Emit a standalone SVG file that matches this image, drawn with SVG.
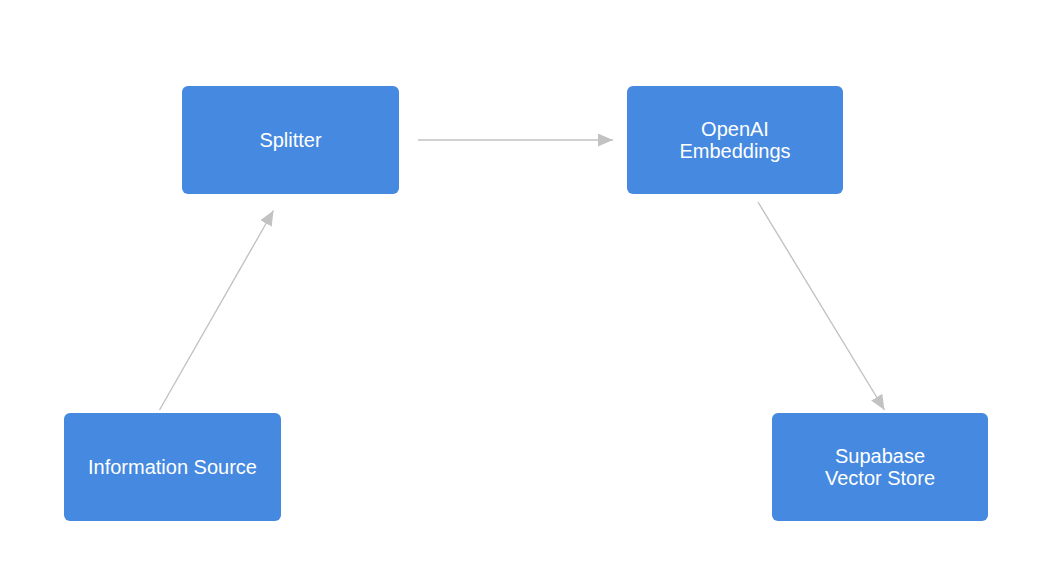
<svg xmlns="http://www.w3.org/2000/svg" width="1061" height="579" viewBox="0 0 1061 579">
<style>
.node rect{fill:#4589E0;}
.node text{fill:#ffffff;font-family:"Liberation Sans",Arial,sans-serif;font-size:20px;text-anchor:middle;}
.edge{stroke:#c2c2c2;stroke-width:1.4;fill:none;}
</style>
<defs>
<marker id="ah" markerUnits="userSpaceOnUse" markerWidth="16" markerHeight="14" refX="15" refY="6.5" orient="auto">
<path d="M0,0 L15,6.5 L0,13 Z" fill="#c2c2c2"/>
</marker>
</defs>
<rect width="1061" height="579" fill="#ffffff"/>
<g id="connectors">
<line class="edge" x1="418" y1="140" x2="613" y2="140" marker-end="url(#ah)"/>
<line class="edge" x1="159.5" y1="410" x2="273.5" y2="210.5" marker-end="url(#ah)"/>
<line class="edge" x1="758" y1="202" x2="884.5" y2="410" marker-end="url(#ah)"/>
</g>
<g id="splitter" class="node">
<rect x="182" y="86" width="217" height="108" rx="6"/>
<text x="290.5" y="146.5">Splitter</text>
</g>
<g id="openai-embeddings" class="node">
<rect x="627" y="86" width="216" height="108" rx="6"/>
<text x="735" y="136">OpenAI</text>
<text x="735" y="157.5">Embeddings</text>
</g>
<g id="information-source" class="node">
<rect x="64" y="413" width="217" height="108" rx="6"/>
<text x="172.5" y="473.5">Information Source</text>
</g>
<g id="supabase-vector-store" class="node">
<rect x="772" y="413" width="216" height="108" rx="6"/>
<text x="880" y="463">Supabase</text>
<text x="880" y="484.5">Vector Store</text>
</g>
</svg>
